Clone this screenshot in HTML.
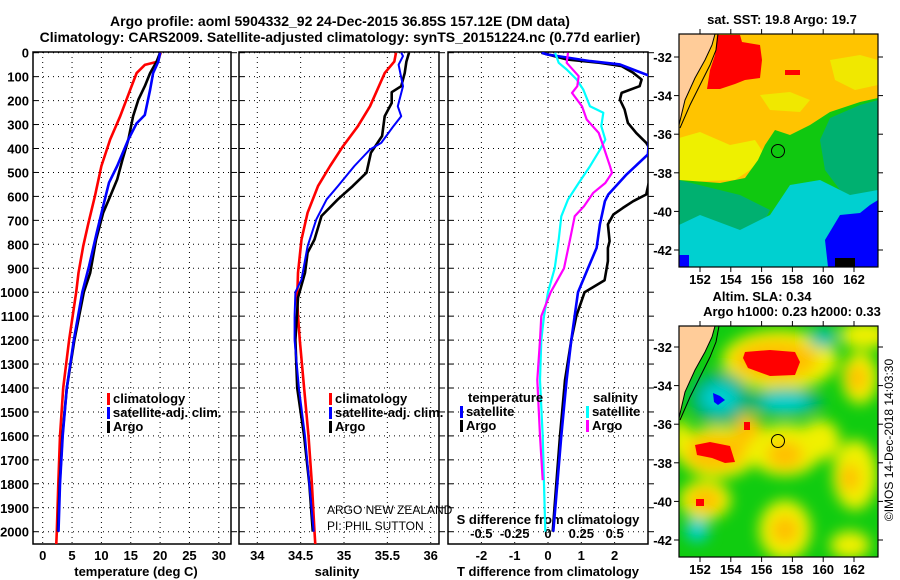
<!DOCTYPE html>
<html><head><meta charset="utf-8"><style>
html,body{margin:0;padding:0;background:#fff;}
svg{display:block;font-family:"Liberation Sans",sans-serif;}
</style></head><body>
<svg id="c" width="900" height="580" viewBox="0 0 900 580"></svg>
<script>
// ---- data ----
const climTDepth=[0,37,51,85,155,265,362,473,599,710,808,919,1000,1200,1400,1600,1800,2000,2060];
const climTVal=[20.1,19.6,17.4,16.0,14.9,13.2,11.5,10.0,8.9,7.8,6.9,6.1,5.7,4.5,3.5,2.95,2.66,2.4,2.3];
const satTDepth=[0,37,85,155,260,295,362,473,543,640,752,890,1000,1200,1400,1600,1800,2000];
const satTVal=[20.0,19.7,18.8,18.3,17.4,16.0,14.6,12.7,11.3,10.3,9.2,7.9,6.75,5.3,4.1,3.4,2.95,2.7];
const argoTDepth=[0,37,85,140,196,265,362,446,529,599,668,780,919,1000,1200,1400,1600,1800,2000];
const argoTVal=[20.0,19.4,18.3,17.4,16.3,15.4,14.6,13.6,12.7,11.5,10.3,9.1,8.1,7.0,5.4,4.1,3.35,2.9,2.6];
const climSDepth=[0,37,85,224,307,390,473,557,668,780,919,1023,1100,1200,1400,1600,1800,2000,2060];
const climSVal=[35.60,35.58,35.47,35.30,35.16,34.99,34.84,34.70,34.58,34.51,34.47,34.46,34.47,34.49,34.54,34.59,34.63,34.66,34.67];
const satSDepth=[0,14,50,140,224,265,307,376,404,473,557,612,696,808,947,1000,1100,1200,1400,1600,1800,2000];
const satSVal=[35.66,35.68,35.63,35.68,35.62,35.66,35.57,35.43,35.30,35.12,34.93,34.80,34.68,34.58,34.51,34.44,34.43,34.43,34.48,34.55,34.60,34.65];
const argoSDepth=[0,37,85,140,165,210,265,348,418,501,557,612,682,780,835,919,1023,1200,1400,1600,1800,2000];
const argoSVal=[35.75,35.72,35.70,35.66,35.55,35.55,35.47,35.44,35.31,35.26,35.10,34.93,34.74,34.66,34.58,34.55,34.47,34.44,34.46,34.54,34.60,34.64];
const dTsatDepth=[0,7,35,49,70,105,425,508,592,620,717,815,900,1000,1200,1367,1600,1800,2000];
const dTsatVal=[-0.19,-0.04,1.27,2.16,2.55,3.2,3.0,2.36,1.81,1.71,1.56,1.46,1.2,0.9,0.7,0.56,0.4,0.28,0.16];
const dTargoDepth=[0,28,42,56,84,112,140,168,196,237,293,335,376,432,592,620,648,676,717,787,815,870,950,1000,1100,1200,1367,1600,1800,2000];
const dTargoVal=[-0.2,0.56,1.56,2.21,2.56,2.81,2.75,2.21,2.16,2.3,2.4,2.65,2.95,3.2,2.95,2.56,2.25,1.96,1.8,1.85,1.8,1.8,1.7,1.1,0.85,0.7,0.51,0.36,0.25,0.14];
const dSsatDepth=[0,42,70,112,154,224,251,307,363,405,474,544,613,683,781,900,1000,1100,1200,1367,1600,1800,2000];
const dSsatVal=[0.053,0.08,0.14,0.215,0.265,0.315,0.415,0.40,0.43,0.39,0.315,0.23,0.15,0.10,0.08,0.05,0.0,-0.03,-0.05,-0.06,-0.04,-0.03,-0.02];
const dSargoDepth=[0,42,98,140,168,224,279,335,390,474,502,544,585,641,683,781,900,1000,1100,1200,1367,1600,1785];
const dSargoVal=[0.15,0.14,0.23,0.22,0.18,0.255,0.29,0.38,0.415,0.465,0.48,0.43,0.34,0.27,0.2,0.165,0.12,0.02,-0.05,-0.06,-0.08,-0.06,-0.04];
const depthTicks=[0,100,200,300,400,500,600,700,800,900,1000,1100,1200,1300,1400,1500,1600,1700,1800,1900,2000];
const tempTicks=[0,5,10,15,20,25,30];
const salTicks=[34,34.5,35,35.5,36];
const tdTicks=[-2,-1,0,1,2];
const sdTicks=[-0.5,-0.25,0,0.25,0.5];
const latTicks=[-32,-34,-36,-38,-40,-42];
const lonTicks=[152,154,156,158,160,162];

// ---- axes ----
const yD=d=>52.7+d*0.2395;
const xT=t=>42.7+t*5.87;
const xS=s=>257.3+(s-34)*86.7;
const xDT=v=>548+v*33.3;
const xDS=v=>548+v*133.3;
const mapX=lon=>700+(lon-152)*15.4;
const mapYtop=lat=>57+(-32-lat)*19.3;
const mapYbot=lat=>347+(-32-lat)*19.3;

const NS='http://www.w3.org/2000/svg';
const svg=document.getElementById('c');
function mk(tag,attrs,parent){const e=document.createElementNS(NS,tag);for(const k in attrs)e.setAttribute(k,attrs[k]);(parent||svg).appendChild(e);return e;}
function txt(s,x,y,opt,parent){const e=mk('text',Object.assign({x:x,y:y,'font-size':13,'font-weight':'bold',fill:'#000'},opt||{}),parent);e.textContent=s;return e;}

const defs=mk('defs',{});
const panels=[{l:33,r:231,id:'p1'},{l:239,r:439,id:'p2'},{l:448,r:648,id:'p3'}];
panels.forEach(p=>{const cp=mk('clipPath',{id:'clip'+p.id},defs);mk('rect',{x:p.l,y:52,width:p.r-p.l,height:492},cp);});
const bl=mk('filter',{id:'blur',x:'-50%',y:'-50%',width:'200%',height:'200%'},defs);mk('feGaussianBlur',{stdDeviation:7},bl);
const cm=mk('clipPath',{id:'clipm1'},defs);mk('rect',{x:679,y:34,width:199,height:233},cm);
const cm2=mk('clipPath',{id:'clipm2'},defs);mk('rect',{x:679,y:326,width:199,height:231},cm2);

const t1=txt('Argo profile: aoml 5904332_92 24-Dec-2015 36.85S 157.12E (DM data)',340,26,{'text-anchor':'middle','font-size':14});

const t2=txt('Climatology: CARS2009. Satellite-adjusted climatology: synTS_20151224.nc (0.77d earlier)',340,42,{'text-anchor':'middle','font-size':14});


function panelFrame(p,name){
  const g=mk('g',{});
  
  
  depthTicks.forEach(d=>{
    const gl=mk('line',{x1:p.l,x2:p.r,y1:yD(d),y2:yD(d),stroke:'#000','stroke-width':1,'stroke-dasharray':'1,4'},g);
    
    mk('line',{x1:p.l,x2:p.l+5,y1:yD(d),y2:yD(d),stroke:'#000'},g);
    mk('line',{x1:p.r,x2:p.r+6,y1:yD(d),y2:yD(d),stroke:'#000'},g);
  });
  mk('rect',{x:p.l,y:52,width:p.r-p.l,height:492,fill:'none',stroke:'#000','stroke-width':1.5},g);
  return g;
}
const g1=panelFrame(panels[0],'temperature-panel');
const g2=panelFrame(panels[1],'salinity-panel');
const g3=panelFrame(panels[2],'difference-panel');
function vgrid(g,x){const l=mk('line',{x1:x,x2:x,y1:52,y2:544,stroke:'#000','stroke-dasharray':'1,4'},g);}
tempTicks.forEach(t=>{vgrid(g1,xT(t));const e=txt(String(t),xT(t),560,{'text-anchor':'middle'});});
salTicks.forEach(s=>{vgrid(g2,xS(s));const e=txt(String(s),xS(s),560,{'text-anchor':'middle'});});
tdTicks.forEach(v=>{vgrid(g3,xDT(v));const e=txt(String(v),xDT(v),560,{'text-anchor':'middle'});});
sdTicks.forEach(v=>{const e=txt(String(v),xDS(v),538,{'text-anchor':'middle'});});
depthTicks.forEach(d=>{const e=txt(String(d),29,yD(d)+5,{'text-anchor':'end'});});
let e;
e=txt('temperature (deg C)',136,576,{'text-anchor':'middle'});
e=txt('salinity',337,576,{'text-anchor':'middle'});
e=txt('T difference from climatology',548,576,{'text-anchor':'middle'});
e=txt('S difference from climatology',548,524,{'text-anchor':'middle'});

function series(depths,vals,xf,color,pid,name,w){
  const pts=depths.map((d,i)=>xf(vals[i]).toFixed(1)+','+yD(d).toFixed(1)).join(' ');
  const pl=mk('polyline',{points:pts,fill:'none',stroke:color,'stroke-width':w||2.6,'clip-path':'url(#clip'+pid+')','stroke-linejoin':'round'});
  
  
}
series(climTDepth,climTVal,xT,'#ff0000','p1','temperature-climatology-line');
series(argoTDepth,argoTVal,xT,'#000000','p1','temperature-argo-line');
series(satTDepth,satTVal,xT,'#0000ff','p1','temperature-satellite-line');
series(climSDepth,climSVal,xS,'#ff0000','p2','salinity-climatology-line');
series(argoSDepth,argoSVal,xS,'#000000','p2','salinity-argo-line');
series(satSDepth,satSVal,xS,'#0000ff','p2','salinity-satellite-line',2);
series(dTargoDepth,dTargoVal,xDT,'#000000','p3','t-diff-argo-line');
series(dTsatDepth,dTsatVal,xDT,'#0000ff','p3','t-diff-satellite-line');
series(dSsatDepth,dSsatVal,xDS,'#00ffff','p3','s-diff-satellite-line',2.2);
series(dSargoDepth,dSargoVal,xDS,'#ff00ff','p3','s-diff-argo-line',2.2);

function legendEntry(x,y,color,label,name){
  const g=mk('g',{});
  
  
  mk('rect',{x:x,y:y-10,width:3,height:12,fill:color},g);
  txt(label,x+6,y,{},g);
}
legendEntry(107,403,'#ff0000','climatology','legend-climatology-temp');
legendEntry(107,417,'#0000ff','satellite-adj. clim.','legend-satellite-temp');
legendEntry(107,431,'#000000','Argo','legend-argo-temp');
legendEntry(329,403,'#ff0000','climatology','legend-climatology-sal');
legendEntry(329,417,'#0000ff','satellite-adj. clim.','legend-satellite-sal');
legendEntry(329,431,'#000000','Argo','legend-argo-sal');
e=txt('temperature',468,402,{});
legendEntry(460,416,'#0000ff','satellite','legend-t-satellite');
legendEntry(460,430,'#000000','Argo','legend-t-argo');
e=txt('salinity',593,402,{});
legendEntry(586,416,'#00ffff','satellite','legend-s-satellite');
legendEntry(586,430,'#ff00ff','Argo','legend-s-argo');
e=txt('ARGO NEW ZEALAND',327,514,{'font-weight':'normal','font-size':12});
e=txt('PI: PHIL SUTTON',327,530,{'font-weight':'normal','font-size':12});

function mapFrame(top,bot,yf,name){
  const g=mk('g',{});
  
  
  latTicks.forEach(l=>{const y=yf(l);mk('line',{x1:679,x2:674,y1:y,y2:y,stroke:'#000'},g);mk('line',{x1:878,x2:883,y1:y,y2:y,stroke:'#000'},g);
    const t=txt(String(l),672,y+5,{'text-anchor':'end'},g);});
  lonTicks.forEach(l=>{const x=mapX(l);mk('line',{x1:x,x2:x,y1:top,y2:top-5,stroke:'#000'},g);mk('line',{x1:x,x2:x,y1:bot,y2:bot+5,stroke:'#000'},g);
    const t=txt(String(l),x,bot+17,{'text-anchor':'middle'},g);});
  mk('rect',{x:679,y:top,width:199,height:bot-top,fill:'none',stroke:'#000','stroke-width':1.2},g);
}
const m1=mk('g',{'clip-path':'url(#clipm1)'});


mk('rect',{x:679,y:34,width:199,height:233,fill:'#ffc400'},m1);
mk('polygon',{points:'830,60 860,55 878,60 878,85 855,90 835,80',fill:'#f0e800'},m1);
mk('polygon',{points:'760,95 790,92 810,100 800,112 770,110',fill:'#f0e800'},m1);
mk('polygon',{points:'679,138 700,132 730,145 755,140 765,155 750,170 735,180 679,182',fill:'#eef000'},m1);
mk('polygon',{points:'679,180 720,183 745,178 758,160 765,145 775,130 790,135 810,125 830,112 860,102 878,98 878,267 679,267',fill:'#10c810'},m1);
mk('polygon',{points:'830,118 860,105 878,100 878,200 860,200 840,190 825,170 820,140',fill:'#00b070'},m1);
mk('polygon',{points:'679,180 740,195 760,205 770,210 760,230 720,240 679,240',fill:'#00b070'},m1);
mk('polygon',{points:'679,225 700,215 740,230 770,215 790,185 820,180 850,195 878,190 878,267 679,267',fill:'#00d0d0'},m1);
mk('polygon',{points:'828,267 825,240 840,215 860,213 870,205 878,200 878,267',fill:'#0000ff'},m1);
mk('rect',{x:679,y:255,width:10,height:12,fill:'#0000ff'},m1);
mk('rect',{x:835,y:258,width:20,height:9,fill:'#000'},m1);
mk('polygon',{points:'717,35 740,35 742,42 760,45 762,60 760,78 745,80 735,84 720,89 707,89 710,70 715,55',fill:'#ff0000'},m1);
mk('rect',{x:785,y:70,width:15,height:5,fill:'#ff0000'},m1);
mk('polygon',{points:'679,34 715,34 712,45 705,60 695,78 685,100 679,125',fill:'#ffcc99'},m1);
mk('polyline',{points:'715,34 712,45 705,60 695,78 685,100 679,125',fill:'none',stroke:'#000','stroke-width':1},m1);
mk('polyline',{points:'718,34 716,50 710,65 700,85 690,105 680,128',fill:'none',stroke:'#000','stroke-width':1},m1);
const c1=mk('circle',{cx:778,cy:151,r:6.5,fill:'none',stroke:'#000','stroke-width':1},m1);

mapFrame(34,267,mapYtop,'sst-map-axes');
e=txt('sat. SST: 19.8 Argo: 19.7',782,24,{'text-anchor':'middle'});

const m2=mk('g',{'clip-path':'url(#clipm2)'});


mk('rect',{x:679,y:326,width:199,height:231,fill:'#10cc10'},m2);
const bg=mk('g',{filter:'url(#blur)'},m2);
[[780,360,58,30,'#f0f000'],[775,360,42,20,'#ffc000'],[720,398,30,26,'#00b080'],[720,398,18,14,'#00d0d0'],[785,402,38,14,'#00b080'],[785,402,24,9,'#00d0d0'],
 [718,452,40,26,'#f0f000'],[715,452,30,18,'#ffc000'],[748,430,14,16,'#ffc000'],[785,450,36,26,'#f0f000'],[785,455,18,14,'#ffc000'],
 [705,500,26,20,'#f0f000'],[705,500,16,12,'#ffc000'],[697,530,12,12,'#00d0d0'],[860,378,18,26,'#f0f000'],[857,378,10,14,'#ffc000'],
 [855,475,22,35,'#f0f000'],[850,478,10,14,'#ffc000'],[785,530,26,30,'#f0f000'],[785,530,14,14,'#ffc000'],[865,335,25,14,'#f0f000'],
 [823,338,14,10,'#00c0b0'],[820,440,20,20,'#f0f000'],[680,440,10,20,'#f0f000'],[850,545,20,14,'#f0f000']
].forEach(b=>mk('ellipse',{cx:b[0],cy:b[1],rx:b[2],ry:b[3],fill:b[4]},bg));
mk('polygon',{points:'745,352 770,350 795,352 800,362 795,375 770,376 748,368 743,358',fill:'#ff0000'},m2);
mk('polygon',{points:'695,445 710,442 730,446 735,462 725,463 712,458 697,455',fill:'#ff0000'},m2);
mk('rect',{x:744,y:422,width:6,height:8,fill:'#ff0000'},m2);
mk('rect',{x:696,y:499,width:8,height:7,fill:'#ff0000'},m2);
mk('polygon',{points:'713,393 720,396 725,400 718,405 714,402',fill:'#0000ff'},m2);
mk('polygon',{points:'679,326 715,326 712,337 705,352 695,370 685,392 679,418',fill:'#ffcc99'},m2);
mk('polyline',{points:'715,326 712,337 705,352 695,370 685,392 679,418',fill:'none',stroke:'#000','stroke-width':1},m2);
mk('polyline',{points:'719,326 716,342 710,357 700,377 690,397 680,420',fill:'none',stroke:'#000','stroke-width':1},m2);
const c2=mk('circle',{cx:778,cy:441,r:6.5,fill:'none',stroke:'#000','stroke-width':1},m2);

mapFrame(326,557,mapYbot,'sla-map-axes');
e=txt('Altim. SLA: 0.34',762,301,{'text-anchor':'middle'});
e=txt('Argo h1000: 0.23 h2000: 0.33',792,316,{'text-anchor':'middle'});
e=txt('©IMOS 14-Dec-2018 14:03:30',0,0,{'font-weight':'normal','font-size':12,transform:'translate(893,440) rotate(-90)','text-anchor':'middle'});

</script>
</body></html>
